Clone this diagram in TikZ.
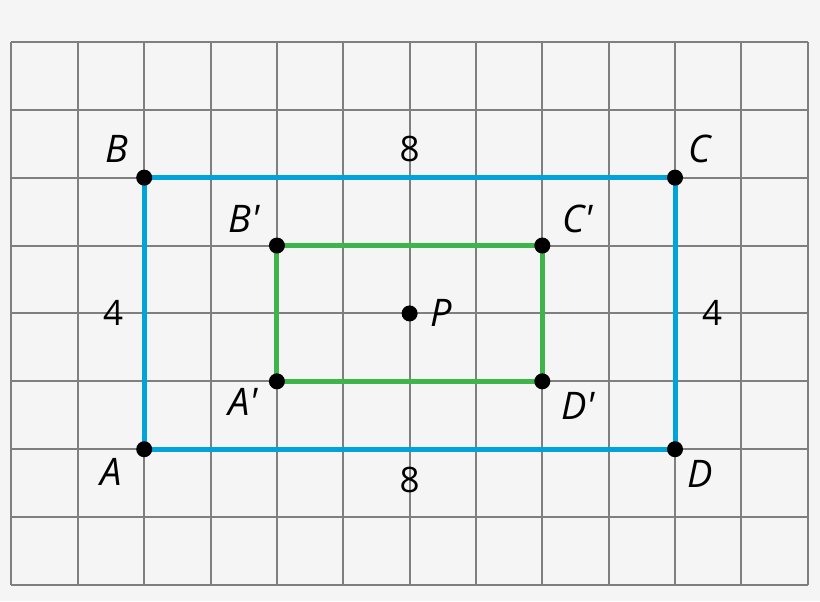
\documentclass[tikz,border=0pt]{standalone}
\usepackage{fontspec}
\usetikzlibrary{calc}
\newfontfamily\lblfont{Open Sans}
\definecolor{bgcol}{HTML}{F5F5F5}
\definecolor{gridcol}{HTML}{7F7F7F}
\definecolor{bigcol}{HTML}{00A3DA}
\definecolor{smallcol}{HTML}{3DB54A}
\tikzset{
  gridline/.style={draw=gridcol, line width=2pt, xstep=66.35pt, ystep=67.9pt},
  bigside/.style={draw=bigcol, line width=5pt},
  smallside/.style={draw=smallcol, line width=5pt},
  vertex/.style={circle, fill=black, inner sep=0pt, minimum size=16pt},
  lab/.style={font=\lblfont\itshape\fontsize{38}{40}\selectfont, inner sep=0pt},
  len/.style={font=\lblfont\fontsize{35}{38}\selectfont, inner sep=0pt}
}
\begin{document}
\begin{tikzpicture}[x=66.35pt, y=67.9pt]
\fill[bgcol] (-0.1733,-0.2356) rectangle (12.185,8.616);
\useasboundingbox (-0.1733,-0.2356) rectangle (12.185,8.616);
\draw[gridline] (0,0) grid (12,8);

\coordinate (A) at (2,2);
\coordinate (B) at (2,6);
\coordinate (C) at (10,6);
\coordinate (D) at (10,2);
\coordinate (A1) at (4,3);
\coordinate (B1) at (4,5);
\coordinate (C1) at (8,5);
\coordinate (D1) at (8,3);
\coordinate (P) at (6,4);

\draw[bigside] (A) -- (B) -- (C) -- (D) -- cycle;
\draw[smallside] (A1) -- (B1) -- (C1) -- (D1) -- cycle;

\foreach \p in {A,B,C,D,A1,B1,C1,D1,P}
  \node[vertex] (v\p) at (\p) {};

\node[lab] (lA) at ([shift={(-33pt,-23pt)}]A) {A};
\node[lab] (lB) at ([shift={(-27pt,29pt)}]B) {B};
\node[lab] (lC) at ([shift={(25pt,29pt)}]C) {C};
\node[lab] (lD) at ([shift={(25pt,-25pt)}]D) {D};
\node[lab] (lA1) at ([shift={(-34pt,-21pt)}]A1) {A'};
\node[lab] (lB1) at ([shift={(-33pt,27pt)}]B1) {B'};
\node[lab] (lC1) at ([shift={(35pt,27pt)}]C1) {C'};
\node[lab] (lD1) at ([shift={(36pt,-25pt)}]D1) {D'};
\node[lab] (lP) at ([shift={(32pt,0pt)}]P) {P};

\node[len] (top) at ([shift={(0pt,29pt)}]$(B)!0.5!(C)$) {8};
\node[len] (bottom) at ([shift={(0pt,-31pt)}]$(A)!0.5!(D)$) {8};
\node[len] (left) at ([shift={(-31pt,0pt)}]$(A)!0.5!(B)$) {4};
\node[len] (right) at ([shift={(37pt,0pt)}]$(D)!0.5!(C)$) {4};
\end{tikzpicture}
\end{document}
